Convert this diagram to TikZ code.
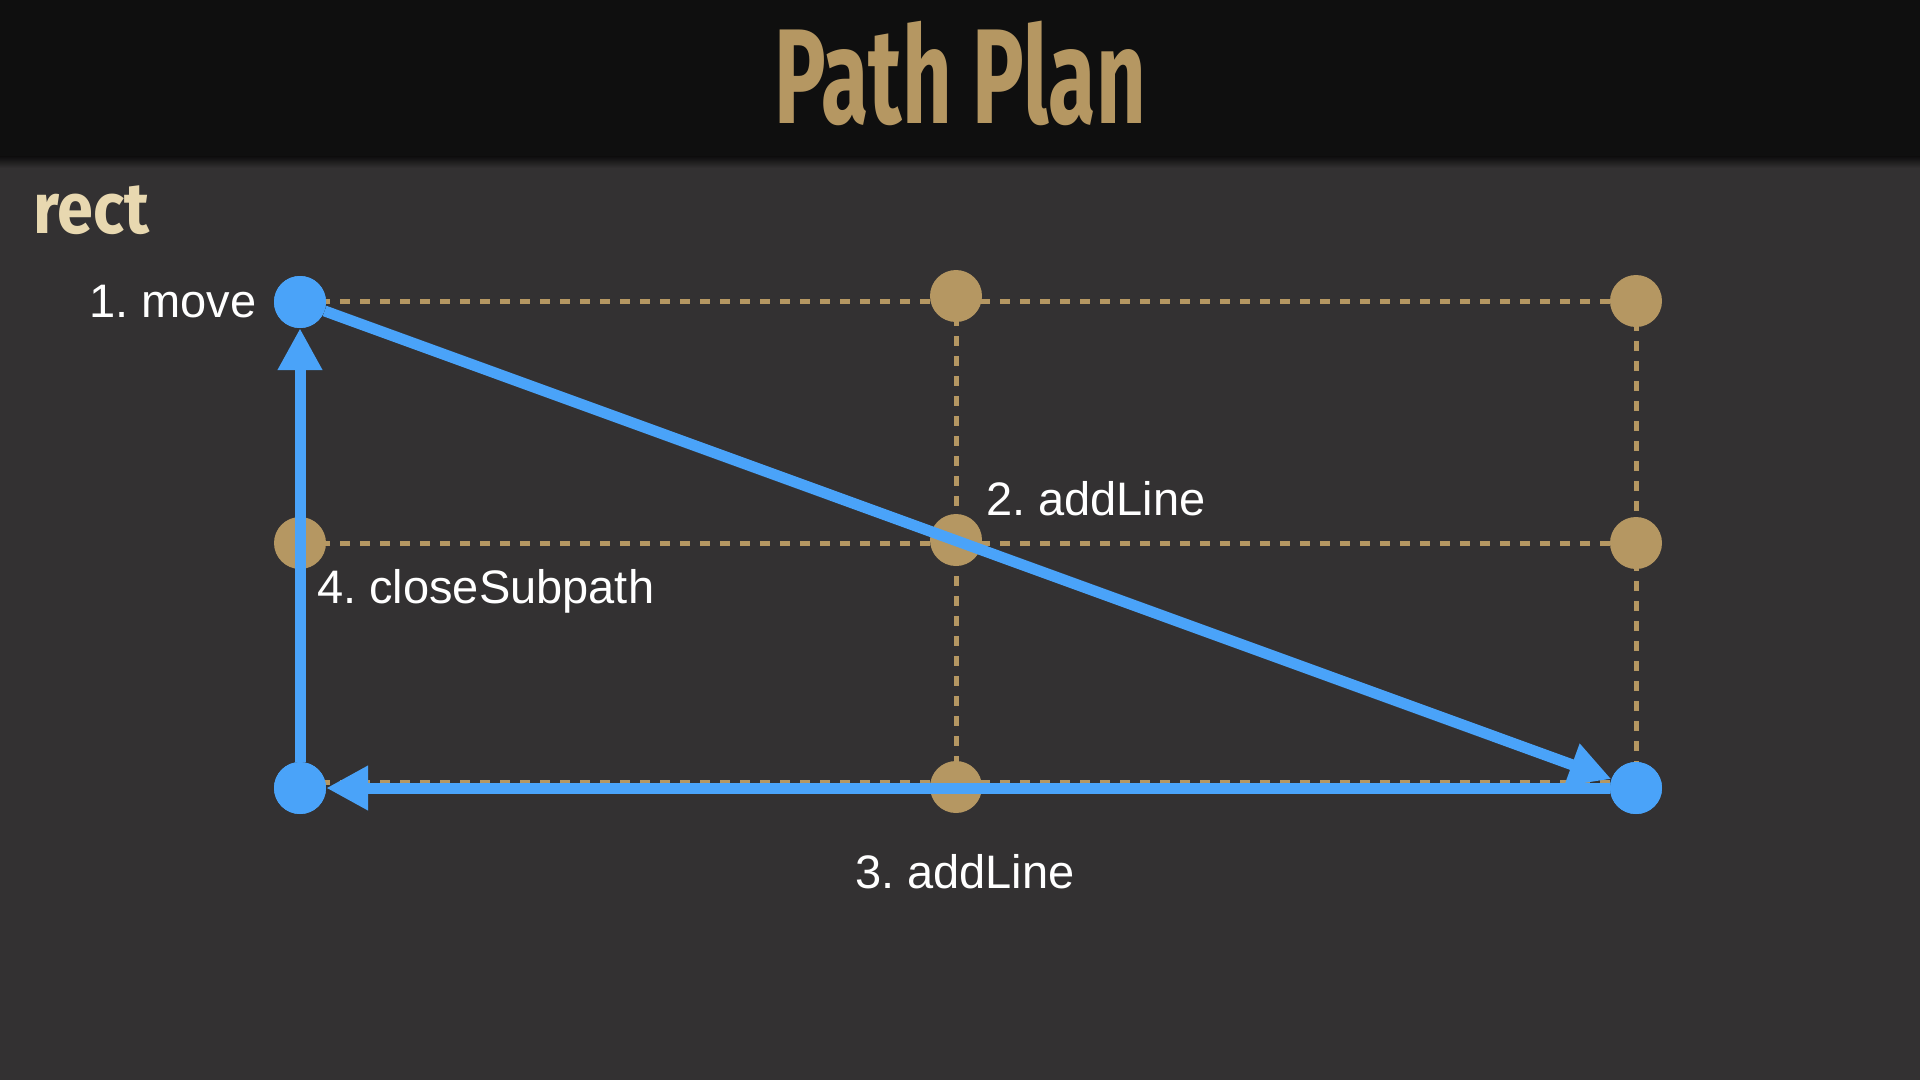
\documentclass[tikz,border=0pt]{standalone}
\usepackage{fontspec}
\setmainfont{Liberation Sans}
\newfontfamily\titlefont{Fira Sans}[FakeStretch=0.64]
\newfontfamily\rectfont{Fira Sans}[FakeStretch=0.9]
\usepackage{tikz}
\usetikzlibrary{arrows.meta,positioning,backgrounds}
\usepackage{xcolor}
\definecolor{pagebg}{HTML}{333132}
\definecolor{headbg}{HTML}{0F0F0F}
\definecolor{gold}{HTML}{B59762}
\definecolor{cream}{HTML}{E8D8B0}
\definecolor{pathblue}{HTML}{4AA3F9}
\frenchspacing

\begin{document}
\begin{tikzpicture}[x=1pt, y=-1pt,
    dot/.style={circle, fill=#1, minimum size=52pt, inner sep=0pt},
    guide/.style={draw=gold, line width=5pt, dash pattern=on 10pt off 10pt},
    stroke/.style={draw=pathblue, line width=11pt, -{Triangle[length=42pt,width=42pt]}},
    lbl/.style={text=white, inner sep=0pt, font=\fontsize{47}{52}\selectfont}
]
    \useasboundingbox (0,0) rectangle (1920,1080);
    \node[text=gold, inner sep=0pt, anchor=base, font=\titlefont\bfseries\fontsize{135}{140}\selectfont] (title) at (960,123) {Path Plan};
    \node[text=cream, inner sep=0pt, anchor=base west, font=\rectfont\bfseries\fontsize{72}{76}\selectfont] (rect) at (33,233) {rect};

    % grid points
    \node[dot=gold] (ml) at (300,543) {};
    \node[dot=gold] (tm) at (956,296) {};
    \node[dot=gold] (mm) at (956,540) {};
    \node[dot=gold] (bm) at (956,787) {};
    \node[dot=gold] (tr) at (1636,301) {};
    \node[dot=gold] (mr) at (1636,543) {};
    \node[dot=pathblue] (tl) at (300,302) {};
    \node[dot=pathblue] (bl) at (300,788) {};
    \node[dot=pathblue] (br) at (1636,788) {};

    \begin{pgfonlayer}{background}
    % page and header bar
    \fill[pagebg] (0,0) rectangle (1920,1080);
    \shade[top color=black!75!pagebg, bottom color=pagebg] (0,156) rectangle (1920,168);
    \fill[headbg] (0,0) rectangle (1920,156);
    \path[guide] (tl.center |- tr.center) -- (tr.center);
    \path[guide] (ml.center) -- (mr.center);
    \path[guide] ([yshift=6pt]bl.center) -- ([yshift=6pt]br.center);
    \path[guide] (tm.center) -- (bm.center);
    \path[guide] (tr.center) -- (br.center);
    \end{pgfonlayer}

    % the path
    \path[stroke] (tl) -- (br);
    \path[stroke] (br) -- (bl);
    \path[stroke] (bl) -- (tl);
    \node[dot=pathblue] at (tl) {};
    \node[dot=pathblue] at (bl) {};
    \node[dot=pathblue] at (br) {};

    \node[lbl, left=17pt of tl] (move) {1. move};
    \node[lbl, anchor=base west] (lineone) at (986,515) {2. addLine};
    \node[lbl, anchor=base west] (linetwo) at (855,888) {3. addLine};
    \node[lbl, anchor=base west] (close) at (317,603) {4. closeSubpath};
\end{tikzpicture}
\end{document}
